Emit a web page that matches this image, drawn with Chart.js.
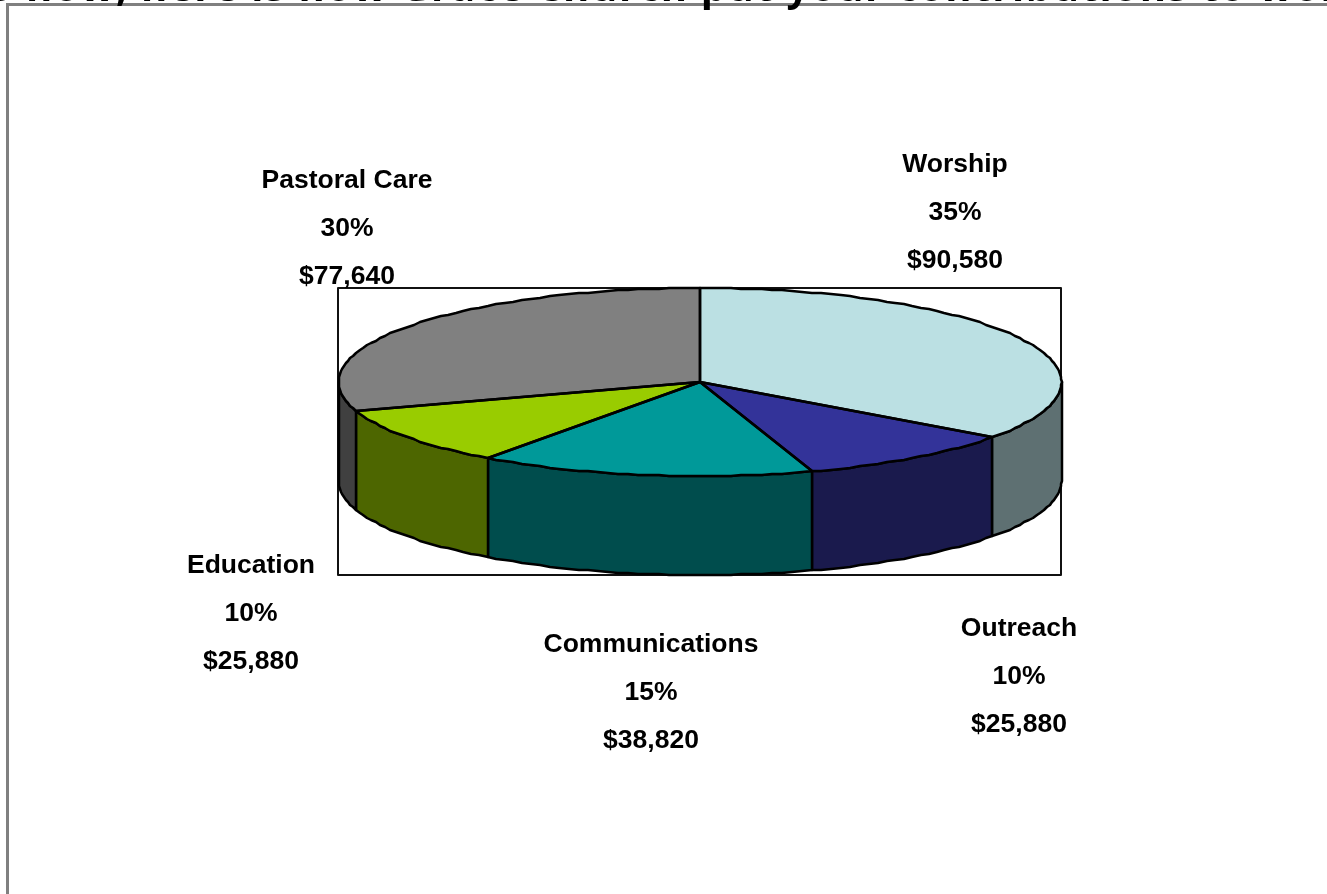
<!DOCTYPE html>
<html>
<head>
<meta charset="utf-8">
<style>
html,body{margin:0;padding:0;background:#fff;width:1327px;height:894px;overflow:hidden}
#frame{position:absolute;left:6px;top:3px;width:1321px;height:891px;box-sizing:border-box;border-left:3px solid #808080;border-top:3px solid #808080}
#head{position:absolute;left:-36px;top:-42px;white-space:nowrap;font:bold 40px "Open Sans",sans-serif;letter-spacing:1.6px;color:#000;height:52px;overflow:visible}
canvas{position:absolute;left:0;top:0}
</style>
</head>
<body>
<div id="frame"></div>
<canvas id="c" width="1327" height="894"></canvas>
<div id="head">So now, here is how Grace Church put your contributions to work</div>
<script src="https://cdn.jsdelivr.net/npm/chart.js@4"></script>
<script>
const categories = ["Worship","Outreach","Communications","Education","Pastoral Care"];
const amounts = [90580,25880,38820,25880,77640];
const topColors = ["#BBE0E3","#333399","#009999","#99CC00","#808080"];
const sideColors = ["#5E7072","#1A1A4D","#004D4D","#4D6600","#404040"];
const labelAnchors = [[955,165],[1019,629],[651,645],[251,566],[347,181]];

const FLAT = 94/361.5, DEPTH = 99;
const plotBox = {left:338, top:288, right:1061, bottom:575};
const total = amounts.reduce((a,b)=>a+b,0);

function rim(el, a0, a1, dy){
  const pts=[], step=Math.PI/110, n=Math.max(1,Math.round((a1-a0)/step));
  for(let i=0;i<=n;i++){
    const a=a0+(a1-a0)*i/n;
    pts.push([Math.round(el.x+el.outerRadius*Math.cos(a)),
              Math.round(el.y+el.outerRadius*FLAT*Math.sin(a)+dy)]);
  }
  return pts;
}
function trace(ctx, pts, move){
  pts.forEach((p,i)=>{ if(i===0&&move) ctx.moveTo(p[0],p[1]); else ctx.lineTo(p[0],p[1]); });
}
const pie3d = {
  id:'pie3d',
  beforeDatasetsDraw(chart){
    const ctx=chart.ctx, arcs=chart.getDatasetMeta(0).data;
    ctx.save();
    ctx.lineWidth=2; ctx.strokeStyle='#111'; ctx.lineJoin='round';
    ctx.strokeRect(plotBox.left,plotBox.top,plotBox.right-plotBox.left,plotBox.bottom-plotBox.top);
    ctx.strokeStyle='#000'; ctx.lineWidth=2.5;
    arcs.forEach((el,i)=>{
      const a0=Math.max(el.startAngle,0), a1=Math.min(el.endAngle,Math.PI);
      if(a1<=a0) return;
      const up=rim(el,a0,a1,0), down=rim(el,a0,a1,DEPTH);
      ctx.beginPath();
      trace(ctx,up,true); trace(ctx,down.slice().reverse(),false); ctx.closePath();
      ctx.fillStyle=sideColors[i]; ctx.fill(); ctx.stroke();
    });
    ctx.restore();
    const el=arcs[0];
    ctx.save();
    ctx.translate(el.x,el.y); ctx.scale(1,FLAT); ctx.translate(-el.x,-el.y);
  },
  afterDatasetsDraw(chart){
    const ctx=chart.ctx, arcs=chart.getDatasetMeta(0).data;
    ctx.restore();
    ctx.save();
    ctx.lineWidth=2.5; ctx.strokeStyle='#000'; ctx.lineJoin='round';
    arcs.forEach(el=>{
      ctx.beginPath();
      ctx.moveTo(el.x,el.y);
      trace(ctx,rim(el,el.startAngle,el.endAngle,0),false);
      ctx.closePath(); ctx.stroke();
    });
    ctx.fillStyle='#000';
    ctx.font='bold 26.5px "Liberation Sans",Arial,sans-serif';
    ctx.textAlign='center'; ctx.textBaseline='middle';
    categories.forEach((name,i)=>{
      const [x,y]=labelAnchors[i];
      ctx.fillText(name,x,y);
      ctx.fillText(Math.round(amounts[i]/total*100)+'%',x,y+48);
      ctx.fillText('$'+amounts[i].toLocaleString('en-US'),x,y+96);
    });
    ctx.restore();
  }
};
new Chart(document.getElementById('c'),{
  type:'pie',
  data:{labels:categories,datasets:[{data:amounts,backgroundColor:topColors,borderWidth:0,clip:false}]},
  options:{
    responsive:false,animation:false,events:[],
    layout:{padding:{left:338.5,right:265.5,top:20.5,bottom:150.5}},
    plugins:{legend:{display:false},tooltip:{enabled:false}}
  },
  plugins:[pie3d]
});
</script>
</body>
</html>
